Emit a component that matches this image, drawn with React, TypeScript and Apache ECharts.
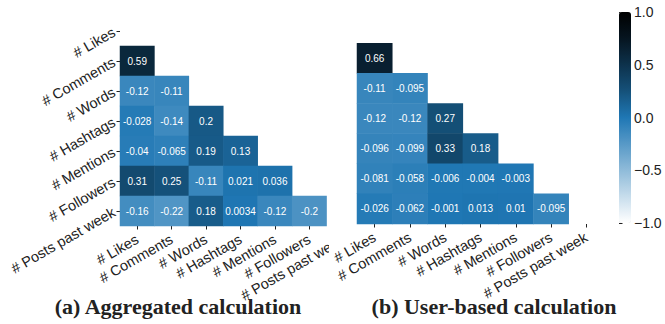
import React, { useEffect, useRef } from "react";
import * as echarts from "echarts";

const features = [
  "# Likes",
  "# Comments",
  "# Words",
  "# Hashtags",
  "# Mentions",
  "# Followers",
  "# Posts past week",
];

// lower-triangular correlations, row i has i values
const aggregatedRows: number[][] = [
  [],
  [0.59],
  [-0.12, -0.11],
  [-0.028, -0.14, 0.2],
  [-0.04, -0.065, 0.19, 0.13],
  [0.31, 0.25, -0.11, 0.021, 0.036],
  [-0.16, -0.22, 0.18, 0.0034, -0.12, -0.2],
];

const userRows: number[][] = [
  [],
  [0.66],
  [-0.11, -0.095],
  [-0.12, -0.12, 0.27],
  [-0.096, -0.099, 0.33, 0.18],
  [-0.081, -0.058, -0.006, -0.004, -0.003],
  [-0.026, -0.062, -0.001, 0.013, 0.01, -0.095],
];

const captions = ["(a) Aggregated calculation", "(b) User-based calculation"];

// colour stops evenly spaced from -1 to 1
const colorStops = [
  "#ffffff",
  "#c7ddec",
  "#8fbbd9",
  "#5799c7",
  "#1f77b4",
  "#15517a",
  "#0d324c",
  "#061520",
  "#000000",
];
const FONT = "Liberation Sans";
const TXT = "#222222";
const LABEL_SIZE = 14.5;

function toCells(rows: number[][]) {
  const out: number[][] = [];
  rows.forEach((r, i) => r.forEach((v, j) => out.push([j, i, v])));
  return out;
}

function axisX(gridIndex: number) {
  return {
    type: "category",
    gridIndex,
    data: features,
    axisLine: { show: false },
    axisTick: { show: true, length: 3.5, alignWithLabel: true, interval: 0, lineStyle: { color: TXT } },
    axisLabel: { rotate: 30, interval: 0, fontSize: LABEL_SIZE, color: TXT, margin: 12, fontFamily: FONT },
    splitArea: { show: false },
    splitLine: { show: false },
  };
}

function axisY(gridIndex: number, showLabels: boolean) {
  return {
    type: "category",
    gridIndex,
    data: features,
    inverse: true,
    axisLine: { show: false },
    axisTick: { show: showLabels, length: 3.5, alignWithLabel: true, interval: 0, lineStyle: { color: TXT } },
    axisLabel: { show: showLabels, rotate: 30, interval: 0, fontSize: LABEL_SIZE, color: TXT, margin: 6, fontFamily: FONT },
    splitArea: { show: false },
    splitLine: { show: false },
  };
}

function heat(data: number[][], xAxisIndex: number, yAxisIndex: number) {
  return {
    type: "heatmap",
    xAxisIndex,
    yAxisIndex,
    data,
    label: {
      show: true,
      formatter: (p: any) => String(p.value[2]),
      color: "#ffffff",
      fontSize: 10,
      fontFamily: FONT,
    },
    emphasis: { disabled: true },
    itemStyle: { borderWidth: 0 },
  };
}

export default function App() {
  const leftRef = useRef<HTMLDivElement>(null);
  const rightRef = useRef<HTMLDivElement>(null);

  useEffect(() => {
    const left = echarts.init(leftRef.current!, undefined, { renderer: "svg" });
    const right = echarts.init(rightRef.current!, undefined, { renderer: "svg" });

    left.setOption({
      animation: false,
      grid: [{ left: 120, top: 16, width: 241, height: 210 }],
      xAxis: [axisX(0)],
      yAxis: [axisY(0, true)],
      visualMap: { show: false, min: -1, max: 1, seriesIndex: 0, inRange: { color: colorStops } },
      series: [heat(toCells(aggregatedRows), 0, 0)],
    });

    right.setOption({
      animation: false,
      grid: [
        { left: 357, top: 13, width: 247, height: 211 },
        { left: 619, top: 12, width: 12, height: 211 },
      ],
      xAxis: [axisX(0), { type: "value", gridIndex: 1, show: false, min: 0, max: 1 }],
      yAxis: [
        axisY(0, false),
        {
          type: "value",
          gridIndex: 1,
          position: "right",
          min: -1,
          max: 1,
          interval: 0.5,
          axisLine: { show: false },
          axisTick: { show: true, length: 3.5, lineStyle: { color: TXT } },
          splitLine: { show: false },
          axisLabel: {
            fontSize: 14,
            color: TXT,
            margin: 3,
            fontFamily: FONT,
            formatter: (v: number) => v.toFixed(1).replace("-", "\u2212"),
          },
        },
      ],
      visualMap: {
        type: "continuous",
        min: -1,
        max: 1,
        seriesIndex: 0,
        left: 619,
        top: 12,
        itemWidth: 12,
        itemHeight: 211,
        padding: 0,
        calculable: false,
        hoverLink: false,
        text: ["", ""],
        inRange: { color: colorStops },
      },
      graphic: [
        {
          type: "text",
          x: 178,
          y: 306,
          style: {
            text: captions[0],
            font: 'bold 22px "Liberation Serif"',
            fill: TXT,
            textAlign: "center",
            textVerticalAlign: "middle",
          },
        },
        {
          type: "text",
          x: 494,
          y: 306,
          style: {
            text: captions[1],
            font: 'bold 22px "Liberation Serif"',
            fill: TXT,
            textAlign: "center",
            textVerticalAlign: "middle",
          },
        },
      ],
      series: [heat(toCells(userRows), 0, 0)],
    });

    return () => {
      left.dispose();
      right.dispose();
    };
  }, []);

  return (
    <div style={{ position: "absolute", left: 0, top: 0, width: 665, height: 324, background: "#fff" }}>
      <div style={{ position: "absolute", left: 0, top: 0, width: 329, height: 324, overflow: "hidden" }}>
        <div ref={leftRef} style={{ width: 665, height: 324 }} />
      </div>
      <div ref={rightRef} style={{ position: "absolute", left: 0, top: 0, width: 665, height: 324 }} />
    </div>
  );
}
